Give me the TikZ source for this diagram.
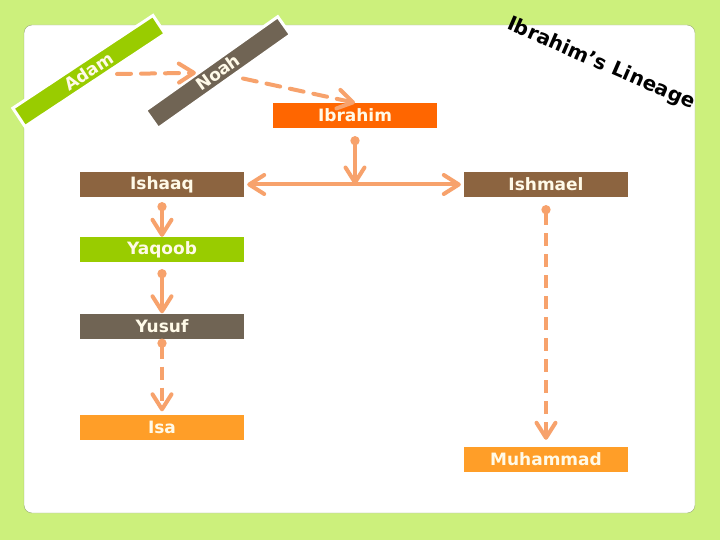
\documentclass[tikz,border=0pt]{standalone}
\usepackage{fontspec}
\setmainfont{DejaVu Sans}
\usepackage{xcolor}
\usepackage{tikz}
\usetikzlibrary{arrows.meta, positioning, calc}
\definecolor{mylime}{RGB}{204,240,124}
\definecolor{myrim}{RGB}{150,172,112}
\definecolor{mygreen}{RGB}{153,204,0}
\definecolor{mytaupe}{RGB}{112,100,84}
\definecolor{mybrown}{RGB}{140,100,64}
\definecolor{myred}{RGB}{255,102,0}
\definecolor{myamber}{RGB}{255,158,40}
\definecolor{mysalmon}{RGB}{247,162,108}
\definecolor{mycream}{RGB}{255,250,232}
\tikzset{
  namebox/.style={rectangle, minimum width=164pt, minimum height=25pt,
    inner sep=0pt, text=mycream, font=\fontsize{17}{20}\selectfont\bfseries},
  tiltbar/.style={namebox, draw=white, line width=3pt, minimum height=22pt},
  link/.style={line width=4pt, color=mysalmon,
    {Circle[length=9pt]}-{Straight Barb[length=15pt,width=19pt,round]}},
  dashlink/.style={link, dash pattern=on 13pt off 8pt},
  tiltlink/.style={line width=4pt, color=mysalmon, line cap=round,
    dash pattern=on 14pt off 10pt, -{Straight Barb[length=15pt,width=19pt,round]}},
  twolink/.style={line width=4pt, color=mysalmon,
    {Straight Barb[length=15pt,width=19pt,round]}-{Straight Barb[length=15pt,width=19pt,round]}}
}
\begin{document}
\begin{tikzpicture}[x=1pt, y=-1pt]
  \useasboundingbox (0,0) rectangle (720,540);
  \fill[mylime] (0,0) rectangle (720,540);

  % White panel
  \draw[draw=myrim, fill=white, rounded corners=8pt] (24,25) rectangle (695,513);

  % Title
  \node[rotate=-23.5, font=\fontsize{20}{24}\selectfont\bfseries] (title) at (601,64) {Ibrahim’s Lineage};

  % Early prophets
  \node[tiltbar, fill=mygreen, rotate=33.5, minimum width=168pt] (adam) at (89,71) {Adam};
  \node[tiltbar, fill=mytaupe, rotate=35.3, minimum width=162pt] (noah) at (218,72.5) {Noah};

  % Family boxes
  \node[namebox, fill=myred] (ibrahim) at (355,115.5) {Ibrahim};
  \node[namebox, fill=mybrown] (ishaaq) at (162,184.5) {Ishaaq};
  \node[namebox, fill=mybrown] (ishmael) at (546,184.5) {Ishmael};
  \node[namebox, fill=mygreen] (yaqoob) at (162,249.5) {Yaqoob};
  \node[namebox, fill=mytaupe] (yusuf) at (162,326) {Yusuf};
  \node[namebox, fill=myamber] (isa) at (162,427) {Isa};
  \node[namebox, fill=myamber] (muhammad) at (546,459.5) {Muhammad};

  % Lineage links
  \draw[tiltlink] ([xshift=28pt,yshift=-3pt]adam.center) -- (noah);
  \draw[tiltlink] ([xshift=25pt,yshift=-6pt]noah.center) -- (ibrahim.north);
  \draw[twolink, shorten <=3pt, shorten >=3pt] (ishaaq.east) -- (ishmael.west);
  \draw[link, shorten <=8pt] (ibrahim.south) -- (ibrahim.south |- ishaaq.east);
  \draw[link, shorten <=5pt] (ishaaq.south) -- (yaqoob.north);
  \draw[link, shorten <=7pt] (yaqoob.south) -- (yusuf.north);
  \draw[dashlink, shorten <=0pt, shorten >=3pt] (yusuf.south) -- (isa.north);
  \draw[dashlink, shorten <=8pt, shorten >=7pt] (ishmael.south) -- (muhammad.north);
\end{tikzpicture}
\end{document}
